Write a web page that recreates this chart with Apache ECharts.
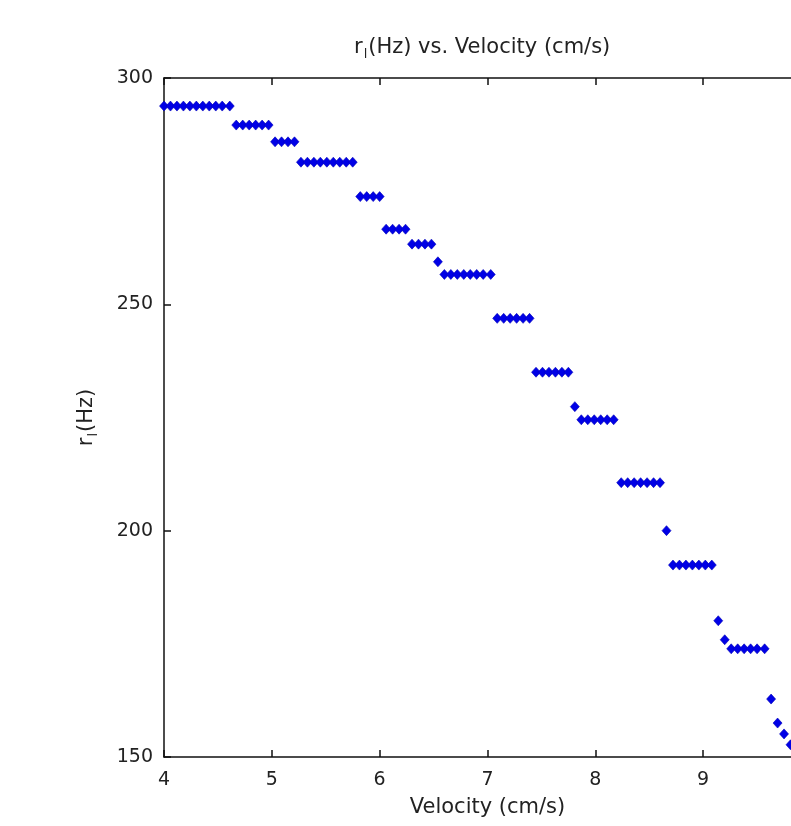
<!DOCTYPE html>
<html>
<head>
<meta charset="utf-8">
<script src="https://cdn.jsdelivr.net/npm/echarts@6/dist/echarts.min.js"></script>
<style>html,body{margin:0;padding:0;background:#fff;overflow:hidden;width:791px;height:826px;}#c{width:830px;height:826px;}</style>
</head>
<body>
<div id="c"></div>
<script>
// Velocity (cm/s) and r_l (Hz)
const velocity = [
  4.00,4.06,4.12,4.18,4.24,4.30,4.36,4.42,4.48,4.54,4.61,
  4.67,4.73,4.79,4.85,4.91,4.97,
  5.03,5.09,5.15,5.21,
  5.27,5.33,5.39,5.45,5.51,5.57,5.63,5.69,5.75,
  5.82,5.88,5.94,6.00,
  6.06,6.12,6.18,6.24,
  6.30,6.36,6.42,6.48,
  6.54,
  6.60,6.66,6.72,6.78,6.84,6.90,6.96,7.03,
  7.09,7.15,7.21,7.27,7.33,7.39,
  7.45,7.51,7.57,7.63,7.69,7.75,
  7.81,
  7.87,7.93,7.99,8.05,8.11,8.17,
  8.24,8.30,8.36,8.42,8.48,8.54,8.60,
  8.66,
  8.72,8.78,8.84,8.90,8.96,9.02,9.08,
  9.14,
  9.20,
  9.26,9.32,9.38,9.44,9.50,9.57,
  9.63,9.69,9.75,9.81
];
const rl = [
  293.8,293.8,293.8,293.8,293.8,293.8,293.8,293.8,293.8,293.8,293.8,
  289.6,289.6,289.6,289.6,289.6,289.6,
  285.9,285.9,285.9,285.9,
  281.4,281.4,281.4,281.4,281.4,281.4,281.4,281.4,281.4,
  273.8,273.8,273.8,273.8,
  266.6,266.6,266.6,266.6,
  263.3,263.3,263.3,263.3,
  259.4,
  256.6,256.6,256.6,256.6,256.6,256.6,256.6,256.6,
  246.9,246.9,246.9,246.9,246.9,246.9,
  235.0,235.0,235.0,235.0,235.0,235.0,
  227.4,
  224.5,224.5,224.5,224.5,224.5,224.5,
  210.6,210.6,210.6,210.6,210.6,210.6,210.6,
  200.0,
  192.4,192.4,192.4,192.4,192.4,192.4,192.4,
  180.1,
  175.9,
  173.9,173.9,173.9,173.9,173.9,173.9,
  162.8,157.5,155.1,152.7
];
const xTicks = [4,5,6,7,8,9,10];
const yTicks = [150,200,250,300];

const points = velocity.map((v,i)=>[v, rl[i]]);
const font = 'DejaVu Sans, Liberation Sans, sans-serif';
const txt = '#222';

const chart = echarts.init(document.getElementById('c'), null, {renderer:'canvas'});
chart.setOption({
  animation:false,
  backgroundColor:'#fff',
  title:{
    text:'{a|r}{s|l}{a|(Hz) vs. Velocity (cm/s)}',
    left:349, top:30,
    textStyle:{
      fontWeight:'normal',
      rich:{
        a:{fontFamily:font,fontSize:21,color:txt,fontWeight:'normal'},
        s:{fontFamily:font,fontSize:13,color:txt,fontWeight:'normal',padding:[13,1,0,1]}
      }
    }
  },
  grid:{left:164, top:78, right:19, bottom:69, containLabel:false},
  xAxis:[{
    type:'value', min:xTicks[0], max:xTicks[xTicks.length-1], interval:1,
    name:'Velocity (cm/s)', nameLocation:'middle', nameGap:40,
    nameTextStyle:{fontFamily:font,fontSize:21,color:txt},
    axisLine:{show:true,onZero:false,lineStyle:{color:'#111',width:1.5}},
    axisTick:{show:true,inside:true,length:7,lineStyle:{color:'#111',width:1.5}},
    axisLabel:{fontFamily:font,fontSize:19,color:txt,margin:14},
    splitLine:{show:false}
  },{
    type:'value', position:'top', min:xTicks[0], max:xTicks[xTicks.length-1], interval:1,
    axisLine:{show:true,onZero:false,lineStyle:{color:'#111',width:1.5}},
    axisTick:{show:true,inside:true,length:7,lineStyle:{color:'#111',width:1.5}},
    axisLabel:{show:false}, splitLine:{show:false}
  }],
  yAxis:[{
    type:'value', min:yTicks[0], max:yTicks[yTicks.length-1], interval:50,
    name:'{a|r}{s|l}{a|(Hz)}', nameLocation:'middle', nameGap:64, nameRotate:90,
    nameTextStyle:{
      rich:{
        a:{fontFamily:font,fontSize:21,color:txt},
        s:{fontFamily:font,fontSize:13,color:txt,padding:[13,1,0,1]}
      }
    },
    axisLine:{show:true,onZero:false,lineStyle:{color:'#111',width:1.5}},
    axisTick:{show:true,inside:true,length:7,lineStyle:{color:'#111',width:1.5}},
    axisLabel:{fontFamily:font,fontSize:19,color:txt,margin:11},
    splitLine:{show:false}
  },{
    type:'value', position:'right', min:yTicks[0], max:yTicks[yTicks.length-1], interval:50,
    axisLine:{show:true,onZero:false,lineStyle:{color:'#111',width:1.5}},
    axisTick:{show:true,inside:true,length:7,lineStyle:{color:'#111',width:1.5}},
    axisLabel:{show:false}, splitLine:{show:false}
  }],
  series:[{
    type:'scatter',
    xAxisIndex:0, yAxisIndex:0,
    data:points,
    symbol:'diamond',
    symbolSize:[9,10],
    clip:false,
    itemStyle:{color:'#0000e6', borderColor:'#0000b8', borderWidth:0.6, opacity:1}
  }]
});
</script>
</body>
</html>
